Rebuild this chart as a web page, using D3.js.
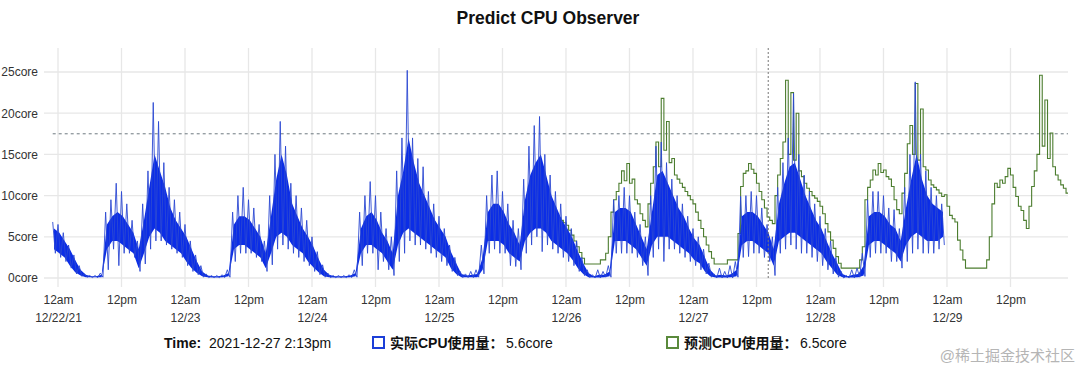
<!DOCTYPE html>
<html><head><meta charset="utf-8">
<script src="https://cdn.jsdelivr.net/npm/d3@7"></script>
<style>
body{margin:0;background:#fff}
svg text{font-family:"Liberation Sans",Arial,"Noto Sans CJK SC",sans-serif}
</style>
</head><body>
<svg id="chart" width="1080" height="380"></svg>
<script>
// ---------- DATA ----------
const chartTitle = "Predict CPU Observer";
// Actual CPU (blue): hourly bins starting at hour -1 relative to 2021-12-22 00:00
const blueStartHour = -1;
const blueHi = [6.8,6.5,5.5,4.0,2.8,1.5,0.5,0.3,0.3,0.6,8.0,9.5,11.5,10.5,9.0,7.0,4.5,9.0,13.0,21.3,19.0,14.0,11.0,9.5,8.0,6.5,4.5,2.8,1.5,0.5,0.3,0.3,0.4,1.0,8.0,10.0,11.0,9.5,8.5,6.5,4.5,10.0,15.0,19.0,16.0,11.5,10.0,8.5,7.0,5.0,3.2,1.6,0.6,0.3,0.3,0.3,0.4,1.0,8.0,10.0,11.7,10.0,8.0,6.0,5.0,13.0,17.0,25.2,17.0,14.5,13.5,10.5,9.0,7.5,6.0,4.0,2.5,0.8,0.5,0.8,1.0,4.0,10.0,12.5,13.0,10.5,9.0,7.0,6.0,12.0,16.0,18.5,19.6,15.0,12.5,10.5,9.0,7.5,6.0,4.5,2.5,1.0,0.4,1.0,0.8,1.5,9.5,10.0,11.0,10.0,8.0,6.5,5.0,10.0,16.0,16.5,14.0,12.0,10.0,9.0,7.5,6.0,5.0,3.5,1.8,0.5,1.2,0.8,1.5,2.0,9.9,10.0,10.5,10.0,8.5,6.5,5.0,11.0,14.0,17.0,22.4,15.0,12.5,10.5,9.0,7.5,6.0,4.5,2.5,0.8,0.3,1.0,1.2,3.0,9.5,10.5,10.5,10.0,8.5,8.3,6.0,11.0,15.0,23.8,15.0,13.0,11.0,10.0,9.0];
const blueLo = [3.0,2.5,2.0,1.2,0.5,0.2,0.1,0.05,0.05,0.1,1.0,3.5,1.5,3.0,3.0,2.5,0.8,1.7,3.5,4.5,4.5,4.0,3.5,3.0,2.5,1.5,0.8,0.4,0.1,0.05,0.05,0.05,0.05,0.1,2.0,3.0,3.0,3.0,2.5,2.0,0.8,1.6,3.5,4.0,3.5,3.0,2.5,2.0,1.5,0.8,0.4,0.1,0.05,0.05,0.05,0.05,0.05,0.1,1.5,3.0,3.0,1.0,2.0,1.0,0.3,2.0,3.0,4.5,4.0,4.0,3.5,3.0,2.5,2.0,1.5,0.8,0.3,0.05,0.05,0.05,0.1,0.5,3.0,3.5,3.0,3.0,1.5,1.4,1.0,3.0,4.0,5.0,3.2,4.0,3.5,3.0,2.5,2.0,1.5,0.8,0.3,0.05,0.0,0.0,0.1,0.1,3.0,3.0,3.0,3.0,2.5,1.5,0.3,2.5,3.5,2.0,3.5,3.5,3.0,2.5,2.0,1.5,1.0,0.5,0.1,0.0,0.0,0.0,0.0,0.1,2.5,2.6,3.0,3.0,2.5,2.0,0.3,3.0,3.5,4.0,3.5,3.0,3.0,2.5,2.0,1.5,1.0,0.5,0.1,0.0,0.0,0.0,0.1,0.2,2.5,3.0,3.0,3.0,2.0,2.0,1.2,2.0,3.0,3.5,3.0,3.0,3.0,3.5,4.0];
const blueCoreHi = [6.0,5.5,4.5,3.5,2.2,1.0,0.4,0.2,0.2,0.4,6.5,7.5,8.0,7.5,6.5,5.5,3.5,7.0,11.0,15.0,13.0,11.0,8.5,7.0,6.0,5.0,3.5,2.0,0.8,0.3,0.2,0.2,0.3,0.6,6.5,7.5,7.5,7.0,6.0,5.0,3.0,7.5,12.0,15.0,12.5,9.0,7.5,6.0,5.0,3.8,2.3,1.0,0.4,0.2,0.2,0.2,0.3,0.6,6.0,7.5,8.0,7.0,5.5,4.5,3.0,10.0,13.0,17.0,14.0,11.5,10.0,8.5,7.0,6.0,5.0,3.2,1.8,0.5,0.3,0.4,0.5,2.5,8.0,9.0,9.0,8.0,6.5,5.5,4.0,9.5,12.5,14.0,15.0,12.5,10.0,8.5,7.0,6.0,4.8,3.2,1.8,0.6,0.2,0.4,0.4,0.8,8.0,8.5,8.5,8.0,6.5,5.0,3.5,8.0,12.5,13.0,11.5,10.0,8.5,7.5,6.0,4.8,4.0,2.5,1.0,0.3,0.4,0.3,0.5,1.0,7.5,8.0,8.0,7.5,6.5,5.5,3.5,9.0,11.5,13.5,14.0,12.0,10.0,8.5,7.0,6.0,4.5,3.0,1.8,0.5,0.2,0.4,0.5,1.5,7.5,8.0,8.0,7.5,6.5,6.0,4.5,8.5,12.0,15.0,12.0,10.0,9.0,8.5,8.0];
const blueCoreLo = [3.5,3.0,2.5,1.5,0.7,0.3,0.1,0.1,0.1,0.1,3.5,4.5,4.5,4.0,3.5,3.0,1.2,3.0,5.0,6.0,5.5,4.5,4.0,3.5,3.0,2.0,1.2,0.6,0.2,0.1,0.05,0.05,0.1,0.2,3.5,4.0,4.0,3.5,3.0,2.5,1.2,3.0,5.0,5.5,5.0,4.0,3.5,3.0,2.0,1.3,0.7,0.2,0.1,0.05,0.05,0.05,0.1,0.2,3.0,4.0,4.0,3.5,3.0,2.0,1.0,4.0,5.5,6.0,5.5,5.0,4.5,4.0,3.5,3.0,2.5,1.2,0.5,0.1,0.1,0.1,0.1,1.0,4.5,4.5,4.5,4.0,3.0,2.5,2.0,4.5,5.5,6.0,6.0,5.5,4.5,4.0,3.5,3.0,2.2,1.2,0.5,0.1,0.05,0.05,0.1,0.2,4.5,4.5,4.5,4.0,3.5,2.5,1.5,4.0,5.0,5.0,5.0,4.5,4.0,3.5,3.0,2.2,1.8,0.8,0.2,0.05,0.05,0.05,0.1,0.2,4.0,4.5,4.5,4.0,3.5,3.0,1.5,4.5,5.0,5.5,5.5,5.0,4.5,4.0,3.5,3.0,2.0,1.2,0.4,0.1,0.05,0.05,0.1,0.3,4.0,4.5,4.5,4.0,3.5,3.0,2.0,4.0,5.0,5.5,5.0,4.5,4.5,4.5,5.0];
// Predicted CPU (green): half-hour steps starting at hour 94
const greenStartHour = 94;
const greenValues = [7.6,7.3,7.0,6.7,6.4,5.8,5.2,4.5,3.8,3.1,2.4,1.7,1.7,1.7,1.7,1.7,1.7,2.2,2.2,3.0,5.0,8.0,9.5,10.5,11.5,13.0,11.8,13.9,11.5,12.0,9.5,9.0,7.8,7.0,6.2,9.0,11.5,13.5,16.5,13.5,21.8,15.5,19.0,14.0,14.5,12.5,12.0,11.5,11.0,10.5,10.0,9.5,9.0,8.0,7.0,6.0,5.0,4.0,3.2,2.4,1.7,1.7,1.7,1.7,1.7,2.2,2.2,2.2,2.2,5.4,11.1,12.7,13.0,13.9,13.2,12.7,11.5,10.5,9.5,8.5,7.4,7.0,6.6,10.0,12.5,14.5,16.5,24.0,15.0,22.5,14.3,20.0,13.0,12.3,11.5,10.9,10.5,10.0,9.7,9.3,8.7,7.8,6.6,5.6,4.6,3.6,2.6,1.8,1.2,1.2,1.2,1.2,1.2,1.2,1.2,2.2,3.8,9.5,11.0,11.9,13.1,12.5,13.9,12.8,13.1,12.3,12.0,11.1,9.5,8.3,7.8,10.3,12.7,16.3,18.5,15.0,23.6,14.3,20.5,13.5,13.1,11.9,11.3,11.0,10.7,10.3,9.9,10.1,8.7,7.6,7.2,6.8,4.6,3.4,2.2,1.2,1.2,1.2,1.2,1.2,1.2,1.2,1.2,2.2,5.0,9.0,11.5,11.0,11.9,11.5,12.3,13.3,12.5,11.0,9.9,8.7,8.2,7.0,6.0,8.7,11.1,13.0,15.0,24.6,16.0,21.6,14.5,17.6,13.5,12.5,11.9,11.3,10.9,10.3];
const thresholdValue = 17.5;
const yTickValues = [0,5,10,15,20,25];
const xTickHours = [0,12,24,36,48,60,72,84,96,108,120,132,144,156,168,180];
const xTickTop = ["12am","12pm","12am","12pm","12am","12pm","12am","12pm","12am","12pm","12am","12pm","12am","12pm","12am","12pm"];
const xTickDate = ["12/22/21","","12/23","","12/24","","12/25","","12/26","","12/27","","12/28","","12/29",""];
const hoverHour = 134.22; // 2021-12-27 2:13pm
const legendTime = "2021-12-27 2:13pm";
const legendActualLabel = "实际CPU使用量：";
const legendActualValue = "5.6core";
const legendPredLabel = "预测CPU使用量：";
const legendPredValue = "6.5core";
const watermark = "@稀土掘金技术社区";

// ---------- SCALES ----------
const base = Date.UTC(2021, 11, 22, 0, 0);
const H = 3600000;
const t = h => new Date(base + h * H);
const x = d3.scaleUtc().domain([t(-2.646), t(190.87)]).range([44, 1068]);
const y = d3.scaleLinear().domain([-1.09, 27.91]).range([287, 48]);

const svg = d3.select("#chart");
const BLUE = "#0b2de6", BLUE_LINE = "#2b48d2", GREEN = "#4c7d2f";

// grid
svg.append("g").selectAll("line").data(yTickValues).join("line")
  .attr("x1", x.range()[0]).attr("x2", x.range()[1])
  .attr("y1", d => y(d)).attr("y2", d => y(d))
  .attr("stroke", "#e7e7e7").attr("stroke-width", 1.3);
svg.append("g").selectAll("line").data(xTickHours).join("line")
  .attr("x1", d => x(t(d))).attr("x2", d => x(t(d)))
  .attr("y1", y.range()[1]).attr("y2", y.range()[0])
  .attr("stroke", "#e7e7e7").attr("stroke-width", 1.3);

// threshold
svg.append("line")
  .attr("x1", x(t(blueStartHour))).attr("x2", x.range()[1])
  .attr("y1", y(thresholdValue)).attr("y2", y(thresholdValue))
  .attr("stroke", "#6f7a80").attr("stroke-width", 1).attr("stroke-dasharray", "3,3");

// green prediction (step)
const greenPts = greenValues.map((v, i) => [greenStartHour + i * 0.5, v]);
greenPts.push([190.87, greenValues[greenValues.length - 1]]);
svg.append("path").datum(greenPts)
  .attr("d", d3.line().x(d => x(t(d[0]))).y(d => y(d[1])).curve(d3.curveStepAfter))
  .attr("fill", "none").attr("stroke", GREEN).attr("stroke-width", 1.1);

// blue actual: dense core
const coreData = blueCoreHi.map((v, i) => ({h: blueStartHour + i, hi: v, lo: blueCoreLo[i]}));
svg.append("path").datum(coreData)
  .attr("d", d3.area().x(d => x(t(d.h + 0.25))).y0(d => y(d.lo)).y1(d => y(d.hi)))
  .attr("fill", BLUE);
// blue spikes zigzag
const zig = [];
blueHi.forEach((v, i) => { zig.push([blueStartHour + i, v]); zig.push([blueStartHour + i + 0.5, blueLo[i]]); });
svg.append("path").datum(zig)
  .attr("d", d3.line().x(d => x(t(d[0]))).y(d => y(d[1])))
  .attr("fill", "none").attr("stroke", BLUE_LINE).attr("stroke-width", 0.9);

// hover line
svg.append("line")
  .attr("x1", x(t(hoverHour))).attr("x2", x(t(hoverHour)))
  .attr("y1", y.range()[1]).attr("y2", y(0))
  .attr("stroke", "#777").attr("stroke-width", 1).attr("stroke-dasharray", "2,2");

// y axis
const ya = svg.append("g").attr("transform", `translate(${x.range()[0]},0)`)
  .call(d3.axisLeft(y).tickValues(yTickValues).tickFormat(d => d + "core").tickSize(0).tickPadding(6));
ya.select(".domain").remove();
ya.selectAll("text").attr("font-size", 12).attr("fill", "#333").attr("font-family", "Liberation Sans, Arial, sans-serif");

// x axis
const xa = svg.append("g").attr("transform", `translate(0,${y.range()[0]})`)
  .call(d3.axisBottom(x).tickValues(xTickHours.map(t)).tickFormat((d, i) => xTickTop[i]).tickSize(0).tickPadding(0));
xa.select(".domain").remove();
xa.selectAll("text").attr("y", 17).attr("dy", 0).attr("font-size", 12).attr("fill", "#333")
  .attr("font-family", "Liberation Sans, Arial, sans-serif")
  .each(function(d, i) {
    if (xTickDate[i]) d3.select(this).append("tspan").attr("x", 0).attr("dy", 18).text(xTickDate[i]);
  });

// title
svg.append("text").attr("x", 548).attr("y", 24).attr("text-anchor", "middle")
  .attr("font-size", 17.5).attr("font-weight", "bold").attr("fill", "#111").text(chartTitle);

// legend / hover info
const lg = svg.append("g").attr("font-size", 14).attr("fill", "#111");
lg.append("text").attr("x", 164).attr("y", 348).attr("font-weight", "bold").text("Time:");
lg.append("text").attr("x", 209).attr("y", 348).text(legendTime);
lg.append("rect").attr("x", 373).attr("y", 337).attr("width", 11).attr("height", 11)
  .attr("fill", "none").attr("stroke", "#1c3fd8").attr("stroke-width", 2);
lg.append("text").attr("x", 390).attr("y", 348).attr("font-weight", "bold")
  .attr("font-family", "Liberation Sans, 'Noto Sans CJK SC', sans-serif").text(legendActualLabel);
lg.append("text").attr("x", 506).attr("y", 348).text(legendActualValue);
lg.append("rect").attr("x", 667).attr("y", 337).attr("width", 11).attr("height", 11)
  .attr("fill", "none").attr("stroke", "#5a8a3c").attr("stroke-width", 2);
lg.append("text").attr("x", 684).attr("y", 348).attr("font-weight", "bold")
  .attr("font-family", "Liberation Sans, 'Noto Sans CJK SC', sans-serif").text(legendPredLabel);
lg.append("text").attr("x", 800).attr("y", 348).text(legendPredValue);

svg.append("text").attr("x", 1075).attr("y", 361).attr("text-anchor", "end")
  .attr("font-size", 15).attr("fill", "#b5b5b5")
  .attr("font-family", "'Noto Sans CJK SC', sans-serif").text(watermark);
</script>
</body></html>
